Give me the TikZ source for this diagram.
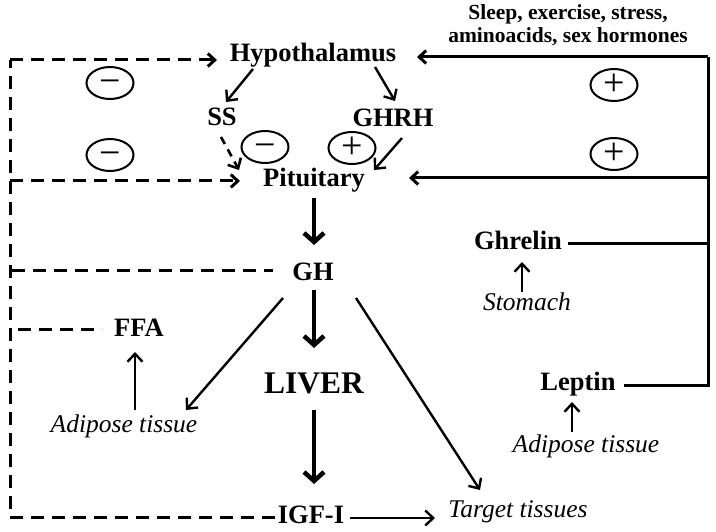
\documentclass[tikz,border=0pt]{standalone}
\usepackage{fontspec}
\setmainfont{Liberation Serif}
\usetikzlibrary{arrows.meta,shapes.geometric,calc}
\begin{document}
\begin{tikzpicture}[x=1pt,y=-1pt,
  lbl/.style={font=\bfseries\fontsize{26.5}{29}\selectfont, inner sep=0pt, anchor=base},
  big/.style={font=\bfseries\fontsize{31.5}{34}\selectfont, inner sep=0pt, anchor=base},
  itl/.style={font=\itshape\fontsize{25.5}{28}\selectfont, inner sep=0pt, anchor=base},
  sgn/.style={ellipse, draw, line width=2pt, minimum width=47pt, minimum height=32pt, inner sep=0pt, font=\fontsize{38}{38}\selectfont},
  tarrow/.style={line width=2.4pt, -{Straight Barb[length=8pt,width=15pt]}},
  barrow/.style={line width=4.5pt, -{Straight Barb[length=9pt,width=20pt]}},
  solidline/.style={line width=3pt},
  sarrow/.style={line width=3pt, -{Straight Barb[length=7pt,width=13pt]}},
  dsh/.style={line width=3pt, dash pattern=on 13pt off 8pt},
  dsharrow/.style={line width=3pt, dash pattern=on 13pt off 8pt, -{Straight Barb[length=7pt,width=13pt]}},
  sdsh/.style={line width=2.6pt, dash pattern=on 8pt off 6pt, -{Straight Barb[length=8pt,width=15pt]}},
]
\useasboundingbox (0,0) rectangle (716,532);

% nodes
\node[lbl] (hyp) at (313,62) {Hypothalamus};
\node[font=\bfseries\fontsize{21.5}{23}\selectfont, inner sep=0pt, anchor=base, align=center] (sleep) at (568,43) {Sleep, exercise, stress,\\aminoacids, sex hormones};
\node[lbl] (ss) at (222,126) {SS};
\node[lbl] (ghrh) at (393,127) {GHRH};
\node[lbl] (pit) at (314,187) {Pituitary};
\node[lbl] (gh) at (313,280) {GH};
\node[big] (liver) at (314,393) {LIVER};
\node[lbl] (igf) at (311,523) {IGF-I};
\node[itl] (target) at (518,517) {Target tissues};
\node[lbl] (ffa) at (139,337) {FFA};
\node[itl] (adl) at (124,432) {Adipose tissue};
\node[lbl] (ghrelin) at (518,250) {Ghrelin};
\node[itl] (stomach) at (527,310) {Stomach};
\node[lbl] (leptin) at (578,390) {Leptin};
\node[itl] (adr) at (586,452) {Adipose tissue};

% signs
\node[sgn] (m1) at (110,83) {\vphantom{+}−};
\node[sgn] (m2) at (110,155) {\vphantom{+}−};
\node[sgn] (m3) at (265,147) {\vphantom{+}−};
\node[sgn] (p3) at (352,148) {+};
\node[sgn] (p1) at (614,85) {+};
\node[sgn] (p2) at (614,154) {+};

% coordinates
\coordinate (R1) at (708,57);
\coordinate (R3) at (708,178);
\coordinate (RG) at (708,244);
\coordinate (R2) at (708,385);
\coordinate (L1) at (10,60);
\coordinate (L3) at (10,181);
\coordinate (LG) at (12,271);
\coordinate (LF) at (18,330);
\coordinate (L2) at (10,517);

% right solid feedback
\draw[solidline] ($(leptin.base)+(46,-5)$) -- (R2) -- (R1);
\draw[solidline] ($(ghrelin.base)+(50,-6)$) -- (RG);
\draw[sarrow] (R1) -- ($(hyp.base)+(104,-5)$);
\draw[sarrow] (R3) -- ($(pit.base)+(95,-9)$);

% left dashed feedback
\draw[dsh] ($(igf.base)+(-36,-6)$) -- (L2) -- (L1);
\draw[dsharrow] (L1) -- ($(hyp.base)+(-96,-2)$);
\draw[dsharrow] (L3) -- ($(pit.base)+(-74,-6)$);
\draw[dsh] (LG) -- ($(gh.base)+(-40,-9)$);
\draw[dsh] (LF) -- ($(ffa.base)+(-37,-7)$);

% hypothalamus branch
\draw[tarrow] ($(hyp.base)+(-60,7)$) -- ($(ss.base)+(4,-24)$);
\draw[tarrow] ($(hyp.base)+(62,5)$) -- ($(ghrh.base)+(2,-26)$);
\draw[sdsh] ($(ss.base)+(-1,11)$) -- ($(pit.base)+(-75,-17)$);
\draw[tarrow] ($(ghrh.base)+(9,11)$) -- ($(pit.base)+(60,-17)$);

% main axis
\draw[barrow] ($(pit.base)+(0,11)$) -- ($(gh.base)+(1,-35)$);
\draw[barrow] ($(gh.base)+(1,10)$) -- ($(liver.base)+(0,-45)$);
\draw[barrow] ($(liver.base)+(0,17)$) -- ($(igf.base)+(3,-39)$);
\draw[tarrow] ($(igf.base)+(39,-5)$) -- ($(target.base)+(-83,1)$);

% GH branches
\draw[tarrow] ($(gh.base)+(-30,18)$) -- ($(adl.base)+(62,-22)$);
\draw[tarrow] ($(gh.base)+(43,18)$) -- ($(target.base)+(-38,-27)$);
\draw[tarrow] ($(adl.base)+(11,-22)$) -- ($(ffa.base)+(-4,15)$);

% peripheral
\draw[tarrow] ($(stomach.base)+(-5,-18)$) -- ($(ghrelin.base)+(4,12)$);
\draw[tarrow] ($(adr.base)+(-14,-20)$) -- ($(leptin.base)+(-6,12)$);
\end{tikzpicture}
\end{document}
